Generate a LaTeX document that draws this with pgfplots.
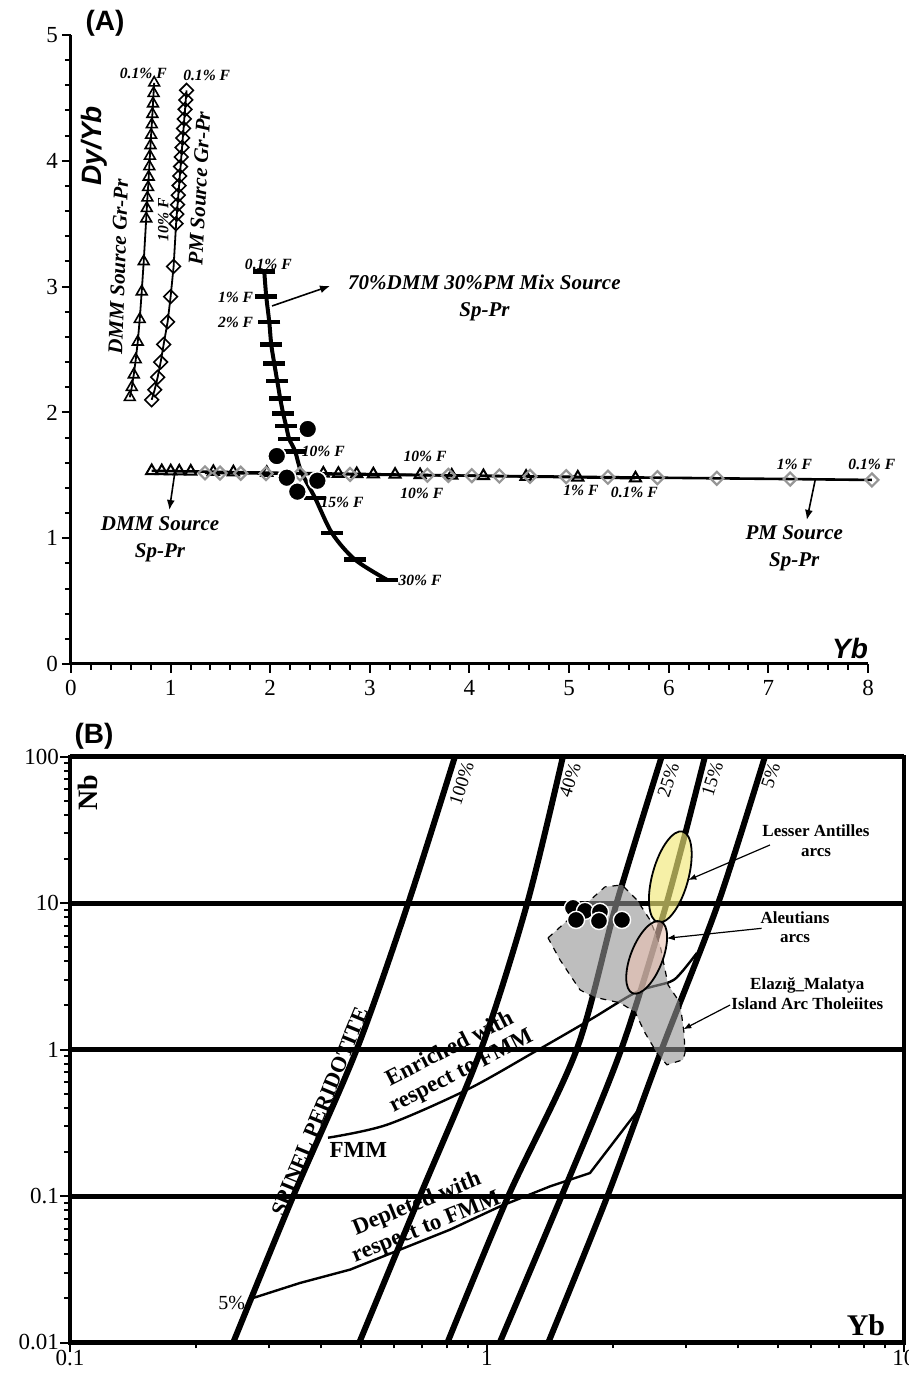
\documentclass[border=0pt]{standalone}
\usepackage{fontspec}
\setmainfont{Liberation Serif}
\setsansfont{Liberation Sans}
\usepackage{pgfplots}
\pgfplotsset{compat=1.18}
\usetikzlibrary{arrows.meta,shapes.geometric}
\definecolor{yel}{RGB}{241,232,120}
\definecolor{pnk}{RGB}{233,193,177}
\definecolor{gpoly}{RGB}{147,147,147}
\definecolor{gdia}{RGB}{150,150,150}
\newcommand{\fs}[1]{\fontsize{#1}{#1}\selectfont}
\begin{document}
\begin{tikzpicture}
\useasboundingbox (0,0) rectangle (454.5pt,686.5pt);
% ---------------- Panel A ----------------
\begin{axis}[
  at={(35.5pt,354.5pt)}, anchor=south west,
  width=398.5pt, height=314.5pt, scale only axis,
  xmin=0, xmax=8, ymin=0, ymax=5,
  axis lines=left, axis line style={line width=1.5pt, -},
  xtick={0,...,8}, ytick={0,...,5},
  minor x tick num=4, minor y tick num=4,
  tick align=outside, major tick length=4.5pt, minor tick length=3pt,
  every tick/.style={line width=1pt, black},
  clip=false,
  ticklabel style={font=\fs{11.5}},
  yticklabel style={xshift=1.5pt},
  /pgf/number format/assume math mode=true,
]
% DMM Gr-Pr
\addplot[black, line width=0.9pt, mark=triangle, mark size=3.1pt, mark options={fill=white, line width=0.8pt}] coordinates {
(0.59,2.12) (0.61,2.20) (0.63,2.30) (0.65,2.42) (0.67,2.56) (0.69,2.74) (0.71,2.96) (0.73,3.20)
(0.755,3.54) (0.761,3.623) (0.767,3.706) (0.774,3.789) (0.780,3.872) (0.786,3.955) (0.792,4.038)
(0.798,4.122) (0.804,4.205) (0.811,4.288) (0.817,4.371) (0.823,4.454) (0.829,4.537) (0.835,4.62)};
% PM Gr-Pr
\addplot[black, line width=0.9pt, mark=square, mark size=2.4pt, mark options={rotate=45, fill=white, line width=0.8pt}] coordinates {
(0.81,2.10) (0.84,2.18) (0.87,2.28) (0.90,2.40) (0.93,2.54) (0.97,2.72) (1.00,2.92) (1.03,3.16)
(1.055,3.500) (1.062,3.576) (1.070,3.651) (1.077,3.727) (1.085,3.803) (1.092,3.879) (1.100,3.954)
(1.107,4.030) (1.115,4.106) (1.122,4.181) (1.130,4.257) (1.137,4.333) (1.145,4.409) (1.152,4.484) (1.160,4.560)};
% DMM Sp-Pr
\addplot[black, line width=1.3pt, mark=triangle, mark size=3.2pt, mark options={fill=white, line width=1pt}] coordinates {
(0.810,1.535) (0.911,1.534) (1.001,1.533) (1.087,1.532) (1.202,1.531) (1.429,1.528) (1.630,1.525)
(1.965,1.521) (2.533,1.515) (2.684,1.513) (2.868,1.511) (3.035,1.509) (3.253,1.506) (3.504,1.503)
(3.822,1.499) (4.140,1.495) (4.568,1.490) (5.087,1.484) (5.666,1.477)};
% PM Sp-Pr
\addplot[black, line width=1.3pt, mark=square, mark size=2.3pt, mark options={rotate=45, fill=white, draw=gdia, line width=1.1pt}] coordinates {
(1.345,1.519) (1.496,1.518) (1.704,1.516) (1.958,1.514) (2.299,1.511) (2.801,1.507) (3.577,1.500)
(3.788,1.499) (4.023,1.497) (4.300,1.494) (4.608,1.492) (4.970,1.489) (5.389,1.485) (5.886,1.481)
(6.483,1.476) (7.219,1.470) (8.04,1.463)};
% Mix source line
\addplot[black, line width=2pt, smooth] coordinates {
(1.94,3.12) (1.96,2.92) (1.99,2.72) (2.01,2.54) (2.04,2.39) (2.07,2.25) (2.10,2.11) (2.13,1.99)
(2.16,1.89) (2.19,1.79) (2.25,1.69) (2.31,1.53) (2.45,1.32) (2.62,1.04) (2.85,0.83) (3.17,0.67)};
\addplot[only marks, black, mark=-, mark size=5.5pt, mark options={line width=2.2pt}] coordinates {
(1.94,3.12) (1.96,2.92) (1.99,2.72) (2.01,2.54) (2.04,2.39) (2.07,2.25) (2.10,2.11) (2.13,1.99)
(2.16,1.89) (2.19,1.79) (2.25,1.69) (2.45,1.32) (2.62,1.04) (2.85,0.83) (3.17,0.67)};
% samples
\addplot[only marks, mark=*, mark size=4.5pt, mark options={fill=black, draw=white, line width=0.8pt}] coordinates {
(2.376,1.868) (2.065,1.653) (2.166,1.481) (2.473,1.457) (2.272,1.370)};
% labels
\begin{scope}[every node/.style={font=\bfseries\itshape\fs{7.8}, inner sep=0pt}]
\node at (axis cs:0.726,4.696) {0.1\% F};
\node at (axis cs:1.362,4.682) {0.1\% F};
\node[rotate=90] at (axis cs:0.927,3.53) {10\% F};
\node at (axis cs:1.981,3.18) {0.1\% F};
\node at (axis cs:1.652,2.912) {1\% F};
\node at (axis cs:1.652,2.713) {2\% F};
\node at (axis cs:2.533,1.693) {10\% F};
\node at (axis cs:2.721,1.285) {15\% F};
\node at (axis cs:3.504,0.668) {30\% F};
\node at (axis cs:3.554,1.648) {10\% F};
\node at (axis cs:3.521,1.357) {10\% F};
\node at (axis cs:5.118,1.378) {1\% F};
\node at (axis cs:5.655,1.362) {0.1\% F};
\node at (axis cs:7.261,1.590) {1\% F};
\node at (axis cs:8.039,1.590) {0.1\% F};
\end{scope}
\begin{scope}[every node/.style={font=\bfseries\itshape\fontsize{10.5}{13.4}\selectfont, inner sep=0pt, align=center}]
\node[rotate=88] at (axis cs:0.475,3.16) {DMM Source Gr-Pr};
\node[rotate=87] at (axis cs:1.29,3.78) {PM Source Gr-Pr};
\node at (axis cs:4.15,2.91) {70\%DMM 30\%PM Mix Source\\Sp-Pr};
\node at (axis cs:7.26,0.92) {PM Source\\Sp-Pr};
\node at (axis cs:0.894,0.99) {DMM Source\\Sp-Pr};
\end{scope}
\draw[-{Latex[length=5pt,width=4pt]}, line width=0.8pt] (axis cs:2.018,2.846) -- (axis cs:2.60,3.005);
\draw[-{Latex[length=5pt,width=4pt]}, line width=0.8pt] (axis cs:7.47,1.463) -- (axis cs:7.386,1.145);
\draw[-{Latex[length=5pt,width=4pt]}, line width=0.8pt] (axis cs:1.044,1.53) -- (axis cs:0.987,1.224);
\node[font=\sffamily\bfseries\itshape\fs{14}, rotate=90] at (axis cs:0.23,4.12) {Dy/Yb};
\node[font=\sffamily\bfseries\itshape\fs{14}] at (axis cs:7.82,0.12) {Yb};
\end{axis}
\node[font=\sffamily\bfseries\fs{14}] at (52.5pt,675pt) {(A)};
% ---------------- Panel B ----------------
\begin{axis}[
  at={(35pt,15.25pt)}, anchor=south west,
  width=417pt, height=293pt, scale only axis,
  xmode=log, ymode=log, xmin=0.1, xmax=10, ymin=0.01, ymax=100,
  axis line style={line width=2pt},
  xtick={0.1,1,10}, xticklabels={0.1,1,10},
  ytick={0.01,0.1,1,10,100}, yticklabels={0.01,0.1,1,10,100},
  minor xtick={0.2,0.3,0.4,0.5,0.6,0.7,0.8,0.9,2,3,4,5,6,7,8,9},
  minor ytick={0.02,0.03,0.04,0.05,0.06,0.07,0.08,0.09,0.2,0.3,0.4,0.5,0.6,0.7,0.8,0.9,2,3,4,5,6,7,8,9,20,30,40,50,60,70,80,90},
  xtick pos=left, ytick pos=left,
  tick align=outside, major tick length=5pt, minor tick length=3pt,
  every tick/.style={line width=1pt, black},
  ymajorgrids, major grid style={line width=2.5pt, black},
  ticklabel style={font=\fs{11.5}},
  xticklabel style={yshift=4.5pt},
  yticklabel style={xshift=3pt},
]
% melting lines
\addplot[black, line width=3pt, smooth] coordinates {(0.2463,0.01) (0.3432,0.1) (0.487,1) (0.6477,10) (0.838,100)};
\addplot[black, line width=3pt, smooth] coordinates {(0.4941,0.01) (0.6906,0.1) (0.9674,1) (1.249,10) (1.521,100)};
\addplot[black, line width=3pt, smooth] coordinates {(0.804,0.01) (1.125,0.1) (1.641,1) (2.046,10) (2.624,100)};
\addplot[black, line width=3pt, smooth] coordinates {(1.073,0.01) (1.510,0.1) (2.098,1) (2.697,10) (3.332,100)};
\addplot[black, line width=3pt, smooth] coordinates {(1.403,0.01) (1.945,0.1) (2.624,1) (3.586,10) (4.641,100)};
% FMM curves
\addplot[black, line width=1.2pt, smooth] coordinates {
(0.4157,0.2499) (0.5756,0.3064) (0.8953,0.531) (1.289,0.9495) (1.766,1.594) (2.289,2.475) (2.747,2.896) (2.919,3.336) (3.189,4.566)};
\addplot[black, line width=1.2pt] coordinates {
(0.2752,0.02015) (0.3562,0.02549) (0.4694,0.03143) (0.6187,0.04303) (0.8152,0.0589) (1.0745,0.0849) (1.416,0.1163) (1.766,0.1435) (2.341,0.4087)};
% Elazig-Malatya field
\addplot[fill=gpoly, fill opacity=0.6, draw=black, dashed, line width=0.6pt] coordinates {
(1.4008,5.781) (1.9187,12.88) (2.107,13.29) (2.289,10.49) (2.460,7.667) (2.600,5.178) (2.718,2.763)
(2.903,2.083) (2.968,1.300) (2.985,0.9495) (2.951,0.8506) (2.702,0.7862) (2.571,0.920) (2.393,1.300)
(2.264,1.807) (2.084,2.083) (1.796,2.288) (1.671,2.554) (1.4965,4.092)} -- cycle;
% arc fields
\node[ellipse, draw=black, line width=0.9pt, fill=yel, fill opacity=0.65, minimum width=47pt, minimum height=18pt, inner sep=0pt, rotate=74.6] at (axis cs:2.752,15.07) {};
\node[ellipse, draw=black, line width=0.9pt, fill=pnk, fill opacity=0.6, minimum width=38.5pt, minimum height=16pt, inner sep=0pt, rotate=68.7] at (axis cs:2.415,4.255) {};
% samples
\addplot[only marks, mark=*, mark size=4.3pt, mark options={fill=black, draw=white, line width=0.7pt}] coordinates {
(1.608,9.26) (1.718,8.834) (1.866,8.697) (1.635,7.667) (1.856,7.548) (2.107,7.667)};
% labels
\begin{scope}[every node/.style={font=\fs{9.5}, inner sep=0pt}]
\node[rotate=72] at (rel axis cs:0.4696,0.9542) {100\%};
\node[rotate=72] at (rel axis cs:0.5995,0.9599) {40\%};
\node[rotate=72] at (rel axis cs:0.7174,0.9599) {25\%};
\node[rotate=72] at (rel axis cs:0.7701,0.9611) {15\%};
\node[rotate=72] at (rel axis cs:0.8401,0.9667) {5\%};
\node[font=\fs{10}] at (rel axis cs:0.1939,0.0669) {5\%};
\end{scope}
\begin{scope}[every node/.style={font=\bfseries\fontsize{8.5}{9.8}\selectfont, inner sep=0pt, align=center}]
\node at (rel axis cs:0.8945,0.8563) {Lesser Antilles\\arcs};
\node at (rel axis cs:0.8693,0.7090) {Aleutians\\arcs};
\node at (rel axis cs:0.8841,0.5952) {Elazığ\_Malatya\\Island Arc Tholeiites};
\end{scope}
\draw[-{Latex[length=4pt,width=3pt]}, line width=0.6pt] (rel axis cs:0.8393,0.8490) -- (rel axis cs:0.7414,0.7892);
\draw[-{Latex[length=4pt,width=3pt]}, line width=0.6pt] (rel axis cs:0.8293,0.7068) -- (rel axis cs:0.7155,0.6898);
\draw[-{Latex[length=4pt,width=3pt]}, line width=0.6pt] (rel axis cs:0.7914,0.5759) -- (rel axis cs:0.7354,0.5345);
\begin{scope}[every node/.style={font=\bfseries\fontsize{11.5}{12.5}\selectfont, inner sep=0pt, align=center}]
\node[rotate=67.6, font=\bfseries\fs{11}] at (rel axis cs:0.2998,0.3939) {SPINEL PERIDOTITE};
\node at (rel axis cs:0.3457,0.3285) {FMM};
\node[rotate=27] at (rel axis cs:0.4625,0.4809) {Enriched with\\respect to FMM};
\node[rotate=22] at (rel axis cs:0.4217,0.2159) {Depleted with\\respect to FMM};
\end{scope}
\node[font=\bfseries\fs{14}, rotate=90] at (rel axis cs:0.0219,0.9382) {Nb};
\node[font=\bfseries\fs{15}] at (rel axis cs:0.9544,0.0299) {Yb};
\end{axis}
\node[font=\sffamily\bfseries\fs{14}] at (47pt,318.25pt) {(B)};
\end{tikzpicture}
\end{document}
